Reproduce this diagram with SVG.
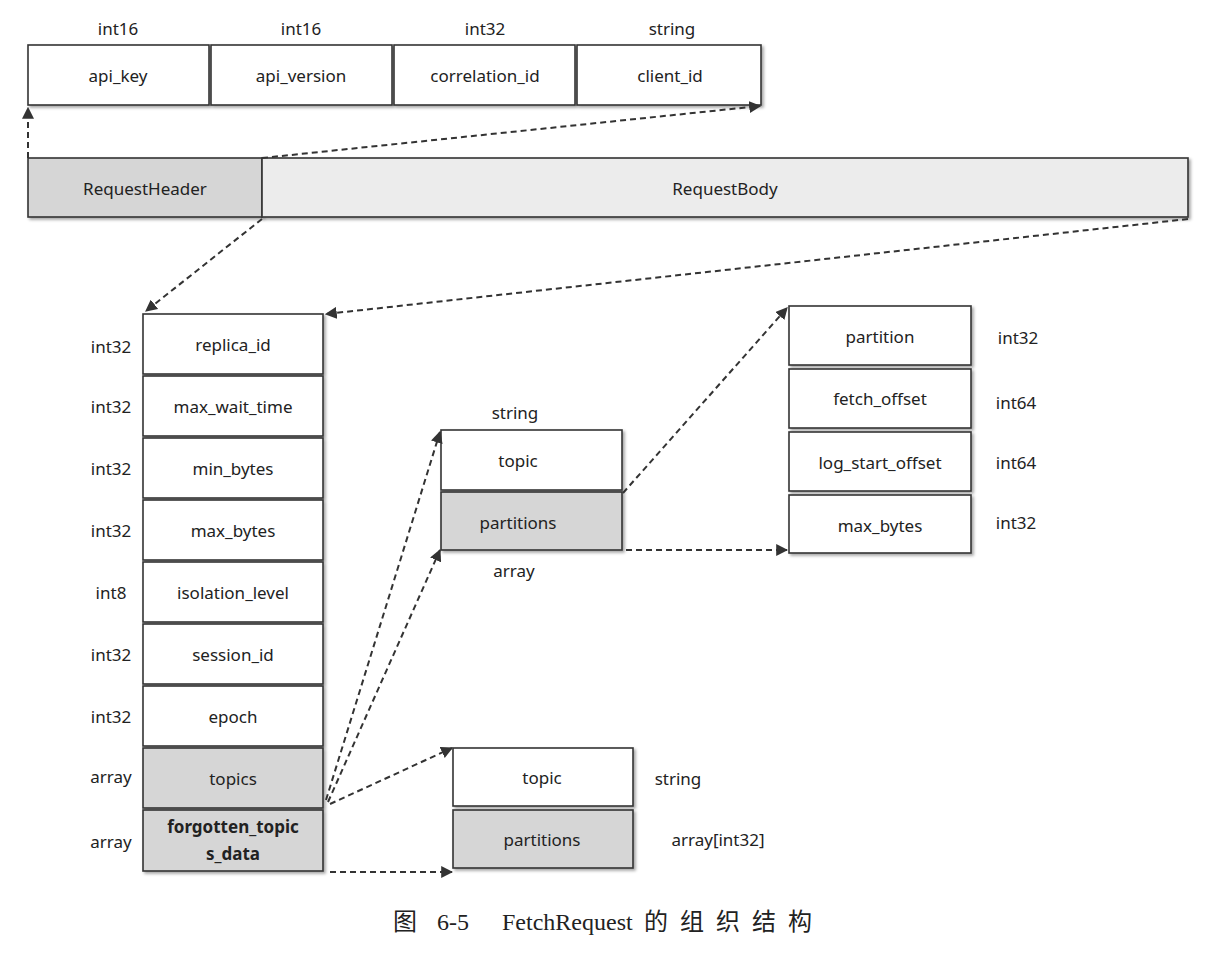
<svg xmlns="http://www.w3.org/2000/svg" width="1216" height="954" viewBox="0 0 1216 954">
<defs>
<marker id="ah" viewBox="0 0 10 10" refX="9" refY="5" markerWidth="6" markerHeight="6" orient="auto-start-reverse" markerUnits="strokeWidth">
<path d="M0,0 L10,5 L0,10 z" fill="#333"/>
</marker>
<filter id="sh" x="-10%" y="-10%" width="130%" height="140%">
<feDropShadow dx="2" dy="2" stdDeviation="1.5" flood-color="#000" flood-opacity="0.35"/>
</filter>
</defs>
<style>
.b{fill:#fff;stroke:#333;stroke-width:1.6;filter:url(#sh)}
.g{fill:#d6d6d6;stroke:#333;stroke-width:1.6;filter:url(#sh)}
.lg{fill:#ececec;stroke:#333;stroke-width:1.6;filter:url(#sh)}
.t{font-family:"Noto Sans","DejaVu Sans",sans-serif;font-size:17px;fill:#222;text-anchor:middle;dominant-baseline:central}
.tb{font-weight:bold}
.c{fill:none;stroke:#333;stroke-width:2;stroke-dasharray:6 4;marker-end:url(#ah)}
.cap{font-family:"Liberation Serif","Noto Sans CJK SC",serif;font-size:24px;fill:#222;dominant-baseline:central}
</style>
<rect width="1216" height="954" fill="#fff"/>

<g id="header-fields">
<g id="api_key"><rect class="b" x="28" y="45" width="181" height="60"/><text class="t" x="118" y="75">api_key</text><text class="t" x="118" y="28">int16</text></g>
<g id="api_version"><rect class="b" x="211" y="45" width="181" height="60"/><text class="t" x="301" y="75">api_version</text><text class="t" x="301" y="28">int16</text></g>
<g id="correlation_id"><rect class="b" x="394" y="45" width="181" height="60"/><text class="t" x="485" y="75">correlation_id</text><text class="t" x="485" y="28">int32</text></g>
<g id="client_id"><rect class="b" x="577" y="45" width="184" height="60"/><text class="t" x="670" y="75">client_id</text><text class="t" x="672" y="28">string</text></g>
</g>

<g id="RequestHeader"><rect class="g" x="28" y="158" width="234" height="59"/><text class="t" x="145" y="188">RequestHeader</text></g>
<g id="RequestBody"><rect class="lg" x="262" y="158" width="926" height="59"/><text class="t" x="725" y="188">RequestBody</text></g>

<g id="body-fields">
<g id="replica_id"><rect class="b" x="143" y="314" width="180" height="60"/><text class="t" x="233" y="344">replica_id</text><text class="t" x="111" y="346">int32</text></g>
<g id="max_wait_time"><rect class="b" x="143" y="376" width="180" height="60"/><text class="t" x="233" y="406">max_wait_time</text><text class="t" x="111" y="406">int32</text></g>
<g id="min_bytes"><rect class="b" x="143" y="438" width="180" height="60"/><text class="t" x="233" y="468">min_bytes</text><text class="t" x="111" y="468">int32</text></g>
<g id="max_bytes"><rect class="b" x="143" y="500" width="180" height="60"/><text class="t" x="233" y="530">max_bytes</text><text class="t" x="111" y="530">int32</text></g>
<g id="isolation_level"><rect class="b" x="143" y="562" width="180" height="60"/><text class="t" x="233" y="592">isolation_level</text><text class="t" x="111" y="592">int8</text></g>
<g id="session_id"><rect class="b" x="143" y="624" width="180" height="60"/><text class="t" x="233" y="654">session_id</text><text class="t" x="111" y="654">int32</text></g>
<g id="epoch"><rect class="b" x="143" y="686" width="180" height="60"/><text class="t" x="233" y="716">epoch</text><text class="t" x="111" y="716">int32</text></g>
<g id="topics"><rect class="g" x="143" y="748" width="180" height="60"/><text class="t" x="233" y="778">topics</text><text class="t" x="111" y="776">array</text></g>
<g id="forgotten_topics_data"><rect class="g" x="143" y="810" width="180" height="61"/><text class="t tb" x="233" y="826">forgotten_topic</text><text class="t tb" x="233" y="853">s_data</text><text class="t" x="111" y="841">array</text></g>
</g>

<g id="topic-entry">
<g id="topic"><rect class="b" x="441" y="430" width="181" height="60"/><text class="t" x="518" y="460">topic</text><text class="t" x="515" y="412">string</text></g>
<g id="partitions"><rect class="g" x="441" y="492" width="181" height="58"/><text class="t" x="518" y="522">partitions</text><text class="t" x="514" y="570">array</text></g>
</g>

<g id="partition-entry">
<g id="partition"><rect class="b" x="789" y="306" width="182" height="59"/><text class="t" x="880" y="336">partition</text><text class="t" x="1018" y="337">int32</text></g>
<g id="fetch_offset"><rect class="b" x="789" y="369" width="182" height="59"/><text class="t" x="880" y="398">fetch_offset</text><text class="t" x="1016" y="402">int64</text></g>
<g id="log_start_offset"><rect class="b" x="789" y="432" width="182" height="59"/><text class="t" x="880" y="462">log_start_offset</text><text class="t" x="1016" y="462">int64</text></g>
<g id="p_max_bytes"><rect class="b" x="789" y="495" width="182" height="58"/><text class="t" x="880" y="525">max_bytes</text><text class="t" x="1016" y="522">int32</text></g>
</g>

<g id="forgotten-entry">
<g id="f_topic"><rect class="b" x="453" y="748" width="180" height="58"/><text class="t" x="542" y="777">topic</text><text class="t" x="678" y="778">string</text></g>
<g id="f_partitions"><rect class="g" x="453" y="810" width="180" height="58"/><text class="t" x="542" y="839">partitions</text><text class="t" x="718" y="839">array[int32]</text></g>
</g>

<g id="connectors">
<path class="c" d="M28,158 L28,108"/>
<path class="c" d="M262,158 L760,106"/>
<path class="c" d="M262,219 L146,311"/>
<path class="c" d="M1188,219 L326,314"/>
<path class="c" d="M326,800 L440,432"/>
<path class="c" d="M328,802 L440,550"/>
<path class="c" d="M330,804 L452,748"/>
<path class="c" d="M330,872 L452,872"/>
<path class="c" d="M623,493 L787,308"/>
<path class="c" d="M626,550 L787,550"/>
</g>

<g id="caption">
<text class="cap" y="922"><tspan x="393">图</tspan><tspan x="437">6-5</tspan><tspan x="502">FetchRequest</tspan><tspan x="644" letter-spacing="12">的组织结构</tspan></text>
</g>
</svg>
